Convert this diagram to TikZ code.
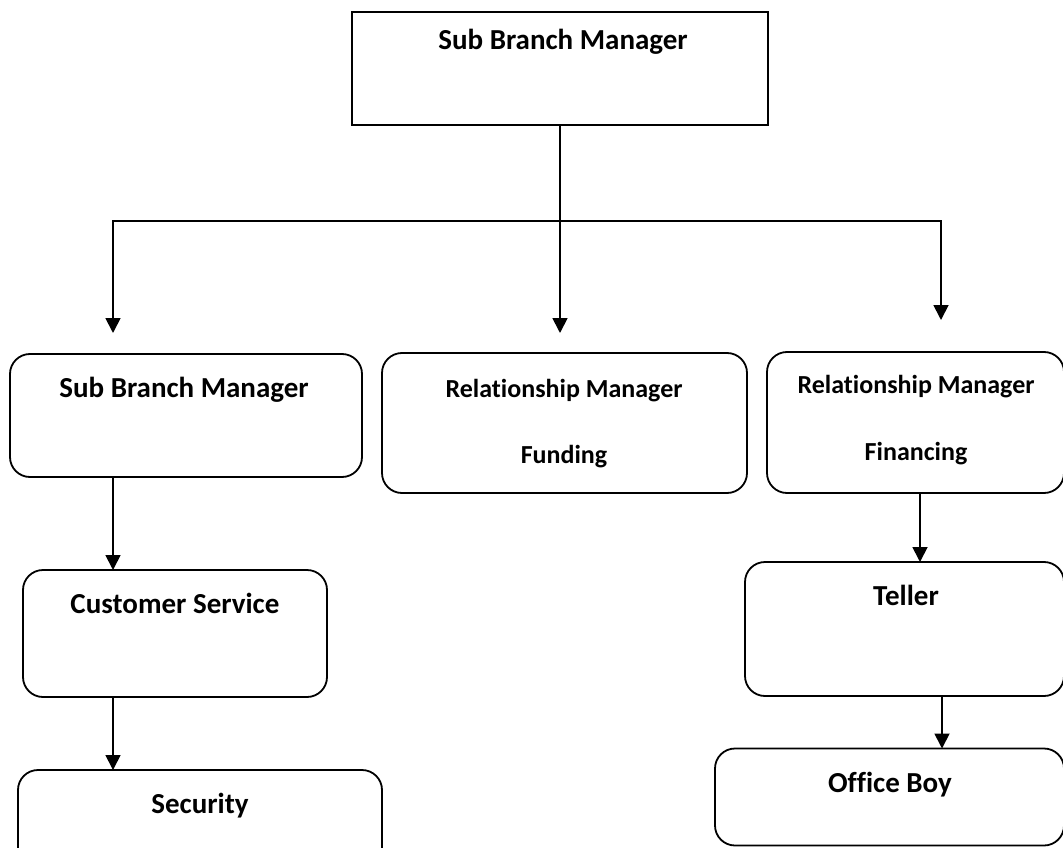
\documentclass[tikz,border=0pt]{standalone}
\usepackage{fontspec}
\setmainfont[Ligatures={NoCommon}]{Carlito}
\usetikzlibrary{arrows.meta,calc}
\begin{document}
\begin{tikzpicture}[x=1pt,y=-1pt,
  box/.style={draw, line width=1.8pt, inner sep=0pt, outer sep=0pt},
  rbox/.style={box, rounded corners=20pt},
  lbl/.style={font=\fontsize{29}{35}\selectfont\bfseries, anchor=base, inner sep=0pt},
  slbl/.style={font=\fontsize{26}{31}\selectfont\bfseries, anchor=base, inner sep=0pt},
  conn/.style={line width=1.8pt},
  arr/.style={conn, -{Triangle[width=15pt,length=15pt]}}]
\path[use as bounding box, clip] (0,0) rectangle (1063,848);
\fill[white] (0,0) rectangle (1063,848);

% boxes
\node[box, minimum width=416pt, minimum height=113pt] (top) at (560,68.5) {};
\node[rbox, minimum width=352pt, minimum height=123pt] (sbm) at (186,415.5) {};
\node[rbox, minimum width=365pt, minimum height=140pt] (rmf) at (564.5,423) {};
\node[rbox, minimum width=297pt, minimum height=141pt] (rmfin) at (915.5,422.5) {};
\node[rbox, minimum width=304pt, minimum height=127pt] (cs) at (175,633.5) {};
\node[rbox, minimum width=364pt, minimum height=120pt] (sec) at (200,830) {};
\node[rbox, minimum width=319pt, minimum height=134pt] (tel) at (904.5,629) {};
\node[rbox, minimum width=349pt, minimum height=97pt] (ob) at (889.5,797) {};

% labels
\node[lbl] (tTop) at (563,50) {Sub Branch Manager};
\node[lbl] (tSbm) at (184,397) {Sub Branch Manager};
\node[slbl] (tRmf1) at (564,397) {Relationship Manager};
\node[slbl] (tRmf2) at (564,463) {Funding};
\node[slbl] (tRmfin1) at (916,393) {Relationship Manager};
\node[slbl] (tRmfin2) at (916,460) {Financing};
\node[lbl] (tCs) at (175,613) {Customer Service};
\node[lbl] (tSec) at (200,813) {Security};
\node[lbl] (tTel) at (906,605) {Teller};
\node[lbl] (tOb) at (890,792) {Office Boy};

% connectors
\coordinate (jc) at (560,221);
\coordinate (tipL) at (113,333);
\coordinate (tipM) at (560,333);
\coordinate (tipR) at (941,320);
\coordinate (axL) at (113,0);
\coordinate (axR1) at (920,0);
\coordinate (axR2) at (942,0);

\draw[conn] (top.south) -- (jc);
\draw[arr] (jc) -| (tipL);
\draw[arr] (jc) -| (tipR);
\draw[arr] (jc) -- (tipM);
\draw[arr] (sbm.south -| axL) -- (cs.north -| axL);
\draw[arr] (cs.south -| axL) -- (sec.north -| axL);
\draw[arr] (rmfin.south -| axR1) -- (tel.north -| axR1);
\draw[arr] (tel.south -| axR2) -- (ob.north -| axR2);
\end{tikzpicture}
\end{document}
